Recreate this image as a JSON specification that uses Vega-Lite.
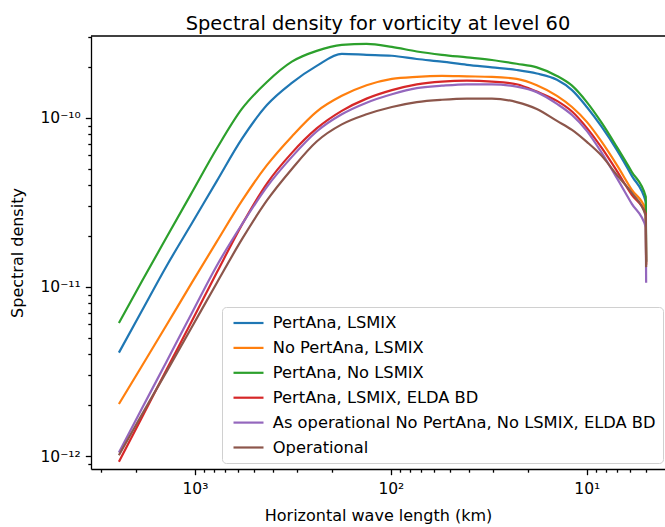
{
  "$schema": "https://vega.github.io/schema/vega-lite/v6.json",
  "width": 574,
  "height": 433,
  "autosize": {"type": "none"},
  "padding": {"left": 91, "top": 36, "right": 0, "bottom": 58},
  "background": "white",
  "title": {"text": "Spectral density for vorticity at level 60", "fontSize": 19.4, "fontWeight": "normal", "font": "DejaVu Sans", "color": "black", "offset": -4},
  "config": {"view": {"stroke": null}, "font": "DejaVu Sans"},
  "data": {"values": [
    {"s":"PertAna, LSMIX","km":2442,"d":4.09e-12},{"s":"PertAna, LSMIX","km":1864,"d":7.23e-12},{"s":"PertAna, LSMIX","km":1390,"d":1.34e-11},{"s":"PertAna, LSMIX","km":1036,"d":2.38e-11},{"s":"PertAna, LSMIX","km":772,"d":4.24e-11},{"s":"PertAna, LSMIX","km":576,"d":7.51e-11},{"s":"PertAna, LSMIX","km":429,"d":1.19e-10},{"s":"PertAna, LSMIX","km":320,"d":1.61e-10},{"s":"PertAna, LSMIX","km":239,"d":2.03e-10},{"s":"PertAna, LSMIX","km":178,"d":2.39e-10},{"s":"PertAna, LSMIX","km":133,"d":2.36e-10},{"s":"PertAna, LSMIX","km":98.8,"d":2.33e-10},{"s":"PertAna, LSMIX","km":73.7,"d":2.23e-10},{"s":"PertAna, LSMIX","km":54.9,"d":2.15e-10},{"s":"PertAna, LSMIX","km":40.9,"d":2.06e-10},{"s":"PertAna, LSMIX","km":30.5,"d":1.99e-10},{"s":"PertAna, LSMIX","km":22.8,"d":1.92e-10},{"s":"PertAna, LSMIX","km":18.0,"d":1.83e-10},{"s":"PertAna, LSMIX","km":14.2,"d":1.68e-10},{"s":"PertAna, LSMIX","km":11.9,"d":1.46e-10},{"s":"PertAna, LSMIX","km":10.0,"d":1.16e-10},{"s":"PertAna, LSMIX","km":8.39,"d":8.84e-11},{"s":"PertAna, LSMIX","km":7.03,"d":6.47e-11},{"s":"PertAna, LSMIX","km":5.89,"d":4.54e-11},{"s":"PertAna, LSMIX","km":5.0,"d":3.18e-11},{"s":"PertAna, LSMIX","km":4.98,"d":1.41e-11},
    {"s":"No PertAna, LSMIX","km":2442,"d":2.03e-12},{"s":"No PertAna, LSMIX","km":1864,"d":3.41e-12},{"s":"No PertAna, LSMIX","km":1390,"d":6.00e-12},{"s":"No PertAna, LSMIX","km":1036,"d":1.06e-11},{"s":"No PertAna, LSMIX","km":772,"d":1.86e-11},{"s":"No PertAna, LSMIX","km":576,"d":3.23e-11},{"s":"No PertAna, LSMIX","km":429,"d":5.25e-11},{"s":"No PertAna, LSMIX","km":320,"d":7.77e-11},{"s":"No PertAna, LSMIX","km":239,"d":1.09e-10},{"s":"No PertAna, LSMIX","km":178,"d":1.35e-10},{"s":"No PertAna, LSMIX","km":133,"d":1.56e-10},{"s":"No PertAna, LSMIX","km":98.8,"d":1.70e-10},{"s":"No PertAna, LSMIX","km":73.7,"d":1.75e-10},{"s":"No PertAna, LSMIX","km":54.9,"d":1.77e-10},{"s":"No PertAna, LSMIX","km":40.9,"d":1.76e-10},{"s":"No PertAna, LSMIX","km":30.5,"d":1.75e-10},{"s":"No PertAna, LSMIX","km":22.8,"d":1.70e-10},{"s":"No PertAna, LSMIX","km":18.0,"d":1.56e-10},{"s":"No PertAna, LSMIX","km":14.2,"d":1.35e-10},{"s":"No PertAna, LSMIX","km":11.9,"d":1.16e-10},{"s":"No PertAna, LSMIX","km":10.0,"d":9.47e-11},{"s":"No PertAna, LSMIX","km":8.39,"d":7.21e-11},{"s":"No PertAna, LSMIX","km":7.03,"d":5.27e-11},{"s":"No PertAna, LSMIX","km":5.89,"d":3.75e-11},{"s":"No PertAna, LSMIX","km":5.0,"d":2.86e-11},{"s":"No PertAna, LSMIX","km":4.98,"d":1.37e-11},
    {"s":"PertAna, No LSMIX","km":2442,"d":6.12e-12},{"s":"PertAna, No LSMIX","km":1864,"d":1.08e-11},{"s":"PertAna, No LSMIX","km":1390,"d":1.98e-11},{"s":"PertAna, No LSMIX","km":1036,"d":3.62e-11},{"s":"PertAna, No LSMIX","km":772,"d":6.61e-11},{"s":"PertAna, No LSMIX","km":576,"d":1.13e-10},{"s":"PertAna, No LSMIX","km":429,"d":1.63e-10},{"s":"PertAna, No LSMIX","km":320,"d":2.15e-10},{"s":"PertAna, No LSMIX","km":239,"d":2.49e-10},{"s":"PertAna, No LSMIX","km":178,"d":2.70e-10},{"s":"PertAna, No LSMIX","km":133,"d":2.74e-10},{"s":"PertAna, No LSMIX","km":98.8,"d":2.63e-10},{"s":"PertAna, No LSMIX","km":73.7,"d":2.47e-10},{"s":"PertAna, No LSMIX","km":54.9,"d":2.36e-10},{"s":"PertAna, No LSMIX","km":40.9,"d":2.28e-10},{"s":"PertAna, No LSMIX","km":30.5,"d":2.20e-10},{"s":"PertAna, No LSMIX","km":22.8,"d":2.09e-10},{"s":"PertAna, No LSMIX","km":18.0,"d":1.99e-10},{"s":"PertAna, No LSMIX","km":14.2,"d":1.77e-10},{"s":"PertAna, No LSMIX","km":11.9,"d":1.55e-10},{"s":"PertAna, No LSMIX","km":10.0,"d":1.24e-10},{"s":"PertAna, No LSMIX","km":8.39,"d":9.34e-11},{"s":"PertAna, No LSMIX","km":7.03,"d":6.74e-11},{"s":"PertAna, No LSMIX","km":5.89,"d":4.79e-11},{"s":"PertAna, No LSMIX","km":5.0,"d":3.41e-11},{"s":"PertAna, No LSMIX","km":4.98,"d":1.41e-11},
    {"s":"PertAna, LSMIX, ELDA BD","km":2442,"d":9.25e-13},{"s":"PertAna, LSMIX, ELDA BD","km":1864,"d":1.69e-12},{"s":"PertAna, LSMIX, ELDA BD","km":1390,"d":3.27e-12},{"s":"PertAna, LSMIX, ELDA BD","km":1036,"d":6.29e-12},{"s":"PertAna, LSMIX, ELDA BD","km":772,"d":1.22e-11},{"s":"PertAna, LSMIX, ELDA BD","km":576,"d":2.33e-11},{"s":"PertAna, LSMIX, ELDA BD","km":429,"d":4.09e-11},{"s":"PertAna, LSMIX, ELDA BD","km":320,"d":6.21e-11},{"s":"PertAna, LSMIX, ELDA BD","km":239,"d":8.66e-11},{"s":"PertAna, LSMIX, ELDA BD","km":178,"d":1.10e-10},{"s":"PertAna, LSMIX, ELDA BD","km":133,"d":1.30e-10},{"s":"PertAna, LSMIX, ELDA BD","km":98.8,"d":1.46e-10},{"s":"PertAna, LSMIX, ELDA BD","km":73.7,"d":1.58e-10},{"s":"PertAna, LSMIX, ELDA BD","km":54.9,"d":1.64e-10},{"s":"PertAna, LSMIX, ELDA BD","km":40.9,"d":1.66e-10},{"s":"PertAna, LSMIX, ELDA BD","km":30.5,"d":1.64e-10},{"s":"PertAna, LSMIX, ELDA BD","km":22.8,"d":1.58e-10},{"s":"PertAna, LSMIX, ELDA BD","km":18.0,"d":1.43e-10},{"s":"PertAna, LSMIX, ELDA BD","km":14.2,"d":1.26e-10},{"s":"PertAna, LSMIX, ELDA BD","km":11.9,"d":1.09e-10},{"s":"PertAna, LSMIX, ELDA BD","km":10.0,"d":8.73e-11},{"s":"PertAna, LSMIX, ELDA BD","km":8.39,"d":6.64e-11},{"s":"PertAna, LSMIX, ELDA BD","km":7.03,"d":4.86e-11},{"s":"PertAna, LSMIX, ELDA BD","km":5.89,"d":3.50e-11},{"s":"PertAna, LSMIX, ELDA BD","km":5.0,"d":2.70e-11},{"s":"PertAna, LSMIX, ELDA BD","km":4.98,"d":1.35e-11},
    {"s":"As operational No PertAna, No LSMIX, ELDA BD","km":2442,"d":1.05e-12},{"s":"As operational No PertAna, No LSMIX, ELDA BD","km":1864,"d":1.91e-12},{"s":"As operational No PertAna, No LSMIX, ELDA BD","km":1390,"d":3.65e-12},{"s":"As operational No PertAna, No LSMIX, ELDA BD","km":1036,"d":7.02e-12},{"s":"As operational No PertAna, No LSMIX, ELDA BD","km":772,"d":1.34e-11},{"s":"As operational No PertAna, No LSMIX, ELDA BD","km":576,"d":2.34e-11},{"s":"As operational No PertAna, No LSMIX, ELDA BD","km":429,"d":3.91e-11},{"s":"As operational No PertAna, No LSMIX, ELDA BD","km":320,"d":5.88e-11},{"s":"As operational No PertAna, No LSMIX, ELDA BD","km":239,"d":8.31e-11},{"s":"As operational No PertAna, No LSMIX, ELDA BD","km":178,"d":1.05e-10},{"s":"As operational No PertAna, No LSMIX, ELDA BD","km":133,"d":1.23e-10},{"s":"As operational No PertAna, No LSMIX, ELDA BD","km":98.8,"d":1.38e-10},{"s":"As operational No PertAna, No LSMIX, ELDA BD","km":73.7,"d":1.50e-10},{"s":"As operational No PertAna, No LSMIX, ELDA BD","km":54.9,"d":1.55e-10},{"s":"As operational No PertAna, No LSMIX, ELDA BD","km":40.9,"d":1.58e-10},{"s":"As operational No PertAna, No LSMIX, ELDA BD","km":30.5,"d":1.58e-10},{"s":"As operational No PertAna, No LSMIX, ELDA BD","km":22.8,"d":1.53e-10},{"s":"As operational No PertAna, No LSMIX, ELDA BD","km":18.0,"d":1.42e-10},{"s":"As operational No PertAna, No LSMIX, ELDA BD","km":14.2,"d":1.21e-10},{"s":"As operational No PertAna, No LSMIX, ELDA BD","km":11.9,"d":1.04e-10},{"s":"As operational No PertAna, No LSMIX, ELDA BD","km":10.0,"d":8.38e-11},{"s":"As operational No PertAna, No LSMIX, ELDA BD","km":8.39,"d":6.21e-11},{"s":"As operational No PertAna, No LSMIX, ELDA BD","km":7.03,"d":4.42e-11},{"s":"As operational No PertAna, No LSMIX, ELDA BD","km":5.89,"d":3.10e-11},{"s":"As operational No PertAna, No LSMIX, ELDA BD","km":5.0,"d":2.26e-11},{"s":"As operational No PertAna, No LSMIX, ELDA BD","km":4.98,"d":1.06e-11},
    {"s":"Operational","km":2442,"d":1.01e-12},{"s":"Operational","km":1864,"d":1.76e-12},{"s":"Operational","km":1390,"d":3.18e-12},{"s":"Operational","km":1036,"d":5.80e-12},{"s":"Operational","km":772,"d":1.06e-11},{"s":"Operational","km":576,"d":1.91e-11},{"s":"Operational","km":429,"d":3.25e-11},{"s":"Operational","km":320,"d":4.99e-11},{"s":"Operational","km":239,"d":7.25e-11},{"s":"Operational","km":178,"d":9.15e-11},{"s":"Operational","km":133,"d":1.05e-10},{"s":"Operational","km":98.8,"d":1.16e-10},{"s":"Operational","km":73.7,"d":1.24e-10},{"s":"Operational","km":54.9,"d":1.28e-10},{"s":"Operational","km":40.9,"d":1.30e-10},{"s":"Operational","km":30.5,"d":1.30e-10},{"s":"Operational","km":22.8,"d":1.24e-10},{"s":"Operational","km":18.0,"d":1.13e-10},{"s":"Operational","km":14.2,"d":9.60e-11},{"s":"Operational","km":11.9,"d":8.49e-11},{"s":"Operational","km":10.0,"d":7.21e-11},{"s":"Operational","km":8.39,"d":5.96e-11},{"s":"Operational","km":7.03,"d":4.60e-11},{"s":"Operational","km":5.89,"d":3.60e-11},{"s":"Operational","km":5.0,"d":2.63e-11},{"s":"Operational","km":4.98,"d":1.31e-11}
  ]},
  "layer": [
    {
      "mark": {"type": "line", "strokeWidth": 2.2, "interpolate": "monotone"},
      "encoding": {
        "x": {
          "field": "km", "type": "quantitative",
          "scale": {"type": "log", "domain": [3.99, 3390], "reverse": true, "nice": false},
          "axis": {
            "title": "Horizontal wave length (km)", "titleFontSize": 16, "titleFontWeight": "normal", "titleColor": "black", "titleFont": "DejaVu Sans", "titlePadding": 10,
            "values": [5,6,7,8,9,10,20,30,40,50,60,70,80,90,100,200,300,400,500,600,700,800,900,1000,2000,3000],
            "labelExpr": "abs(log(datum.value)/LN10 - round(log(datum.value)/LN10)) < 1e-6 ? '10' + ['⁰','¹','²','³','⁴'][round(log(datum.value)/LN10)] : ''",
            "labelFontSize": 15.5, "labelColor": "black", "labelFont": "DejaVu Sans", "labelPadding": 7, "labelFlush": false, "labelOverlap": false,
            "tickColor": "black", "tickWidth": 1.3,
            "tickSize": {"condition": {"test": "abs(log(datum.value)/LN10 - round(log(datum.value)/LN10)) < 1e-6", "value": 5.7}, "value": 3.2},
            "domainColor": "black", "domainWidth": 1.3, "grid": false
          }
        },
        "y": {
          "field": "d", "type": "quantitative",
          "scale": {"type": "log", "domain": [8.38e-13, 3.05e-10], "nice": false},
          "axis": {
            "title": "Spectral density", "titleFontSize": 16, "titleFontWeight": "normal", "titleColor": "black", "titleFont": "DejaVu Sans", "titlePadding": 14,
            "values": [9e-13,1e-12,2e-12,3e-12,4e-12,5e-12,6e-12,7e-12,8e-12,9e-12,1e-11,2e-11,3e-11,4e-11,5e-11,6e-11,7e-11,8e-11,9e-11,1e-10,2e-10,3e-10],
            "labelExpr": "abs(log(datum.value)/LN10 - round(log(datum.value)/LN10)) < 1e-6 ? '10⁻¹' + ['⁰','¹','²','³'][-round(log(datum.value)/LN10) - 10] : ''",
            "labelFontSize": 15.5, "labelColor": "black", "labelFont": "DejaVu Sans", "labelPadding": 5, "labelFlush": false, "labelOverlap": false,
            "tickColor": "black", "tickWidth": 1.3,
            "tickSize": {"condition": {"test": "abs(log(datum.value)/LN10 - round(log(datum.value)/LN10)) < 1e-6", "value": 5.7}, "value": 3.2},
            "domainColor": "black", "domainWidth": 1.3, "grid": false
          }
        },
        "color": {
          "field": "s", "type": "nominal",
          "scale": {
            "domain": ["PertAna, LSMIX", "No PertAna, LSMIX", "PertAna, No LSMIX", "PertAna, LSMIX, ELDA BD", "As operational No PertAna, No LSMIX, ELDA BD", "Operational"],
            "range": ["#1f77b4", "#ff7f0e", "#2ca02c", "#d62728", "#9467bd", "#8c564b"]
          },
          "legend": {
            "title": null, "orient": "none", "legendX": 131, "legendY": 271,
            "symbolType": "M-0.6,0H3.4", "symbolSize": 225, "symbolStrokeWidth": 2.2,
            "labelFontSize": 16.3, "labelColor": "black", "labelFont": "DejaVu Sans", "labelLimit": 600, "labelOffset": 25.8,
            "rowPadding": 6.9, "padding": 7,
            "strokeColor": "#d0d0d0", "fillColor": "rgba(255,255,255,0.8)", "cornerRadius": 4
          }
        }
      }
    },
    {
      "data": {"values": [{"top": 3.05e-10}]},
      "mark": {"type": "rule", "color": "black", "strokeWidth": 1.3},
      "encoding": {"y": {"field": "top", "type": "quantitative"}}
    }
  ]
}
